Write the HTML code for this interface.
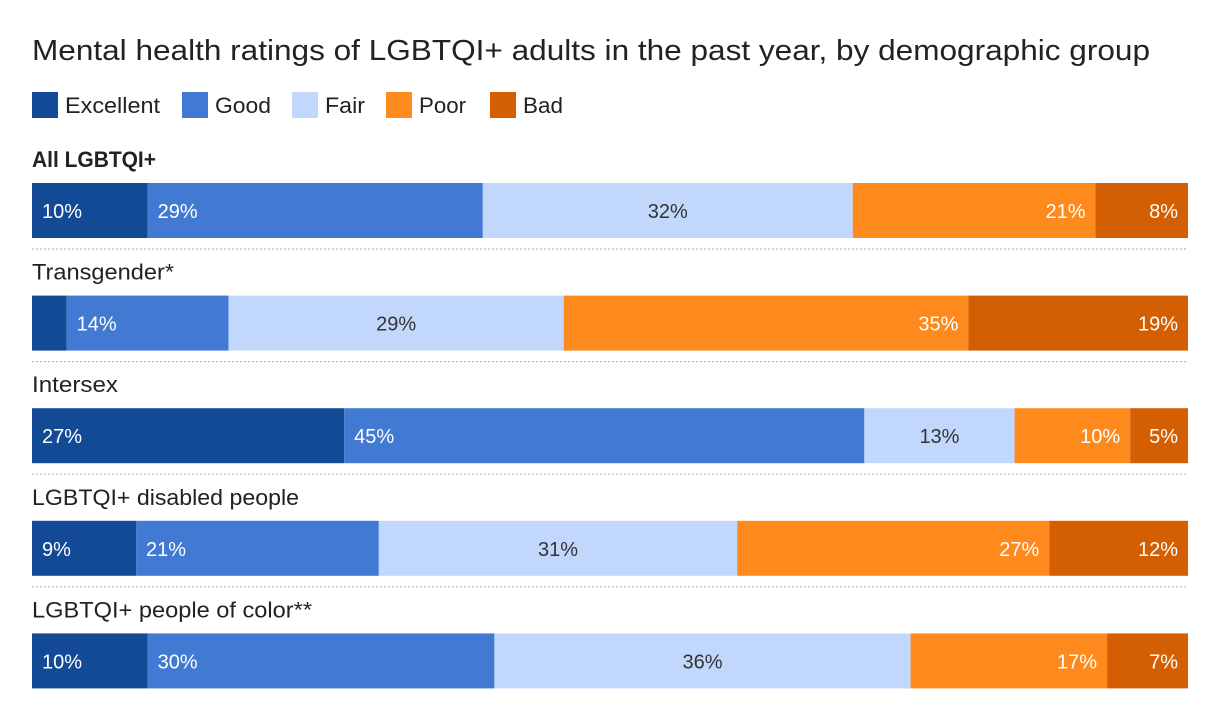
<!DOCTYPE html>
<html><head><meta charset="utf-8">
<style>
body{margin:0;background:#fff;font-family:"Liberation Sans",Roboto,sans-serif;}
svg text{font-family:"Liberation Sans",sans-serif;}
</style></head>
<body>
<svg id="chart" width="1220" height="720" xmlns="http://www.w3.org/2000/svg">
<text x="32" y="60" font-size="29" fill="#222" textLength="1118" lengthAdjust="spacingAndGlyphs">Mental health ratings of LGBTQI+ adults in the past year, by demographic group</text>
<g id="legend"></g>
<g id="rows"></g>
</svg>
<script>
const categories = ["All LGBTQI+","Transgender*","Intersex","LGBTQI+ disabled people","LGBTQI+ people of color**"];
const seriesNames = ["Excellent","Good","Fair","Poor","Bad"];
const excellent = [10,3,27,9,10];
const good = [29,14,45,21,30];
const fair = [32,29,13,31,36];
const poor = [21,35,10,27,17];
const bad = [8,19,5,12,7];
const series = [excellent,good,fair,poor,bad];
const colors = ["#134a96","#4279d2","#c1d8fc","#fe8a1d","#d35f02"];
const textCol = ["#fff","#fff","#333","#fff","#fff"];
const NS="http://www.w3.org/2000/svg";
const X0=32, W=1156;
const xs = v => X0 + v/100*W;
function mk(tag, attrs, parent){const e=document.createElementNS(NS,tag);for(const k in attrs)e.setAttribute(k,attrs[k]);parent.appendChild(e);return e;}
const lg=document.getElementById('legend');
const legX=[32,182,292,386,490];
const legLen=[95,56,40,47,40];
seriesNames.forEach((n,i)=>{
  const g=mk('g',{},lg);
  
  
  mk('rect',{x:legX[i],y:92,width:26,height:26,fill:colors[i]},g);
  const t=mk('text',{x:legX[i]+33,y:113,'font-size':22,fill:'#222',textLength:legLen[i],lengthAdjust:'spacingAndGlyphs'},g);t.textContent=n;
});
const labLen=[124,142,86,267,280];
const rows=document.getElementById('rows');
categories.forEach((c,r)=>{
  const top=183+r*112.6;
  const g=mk('g',{},rows);
  
  
  const lab=mk('text',{x:32,y:top-16,'font-size':22,fill:'#222','font-weight':r===0?'bold':'normal',textLength:labLen[r],lengthAdjust:'spacingAndGlyphs'},g);
  lab.textContent=c;
  
  
  let cum=0;
  series.forEach((s,i)=>{
    const v=s[r];const x1=xs(cum),x2=xs(cum+v);cum+=v;
    const rc=mk('rect',{x:x1,y:top,width:x2-x1,height:55,fill:colors[i]},g);
    
    
    if(x2-x1>45){
      let tx,anc;
      if(i<2){tx=x1+10;anc='start';}else if(i==2){tx=(x1+x2)/2;anc='middle';}else{tx=x2-10;anc='end';}
      const t=mk('text',{x:tx,y:top+35,'font-size':20,fill:textCol[i],'text-anchor':anc},g);
      t.textContent=v+'%';
      
      
    }
  });
  if(r<categories.length-1){
    const l=mk('line',{x1:32,x2:1188,y1:top+66,y2:top+66,stroke:'#bbb','stroke-width':1.2,'stroke-dasharray':'2,2'},g);
    
    
  }
});
</script>
</body></html>
